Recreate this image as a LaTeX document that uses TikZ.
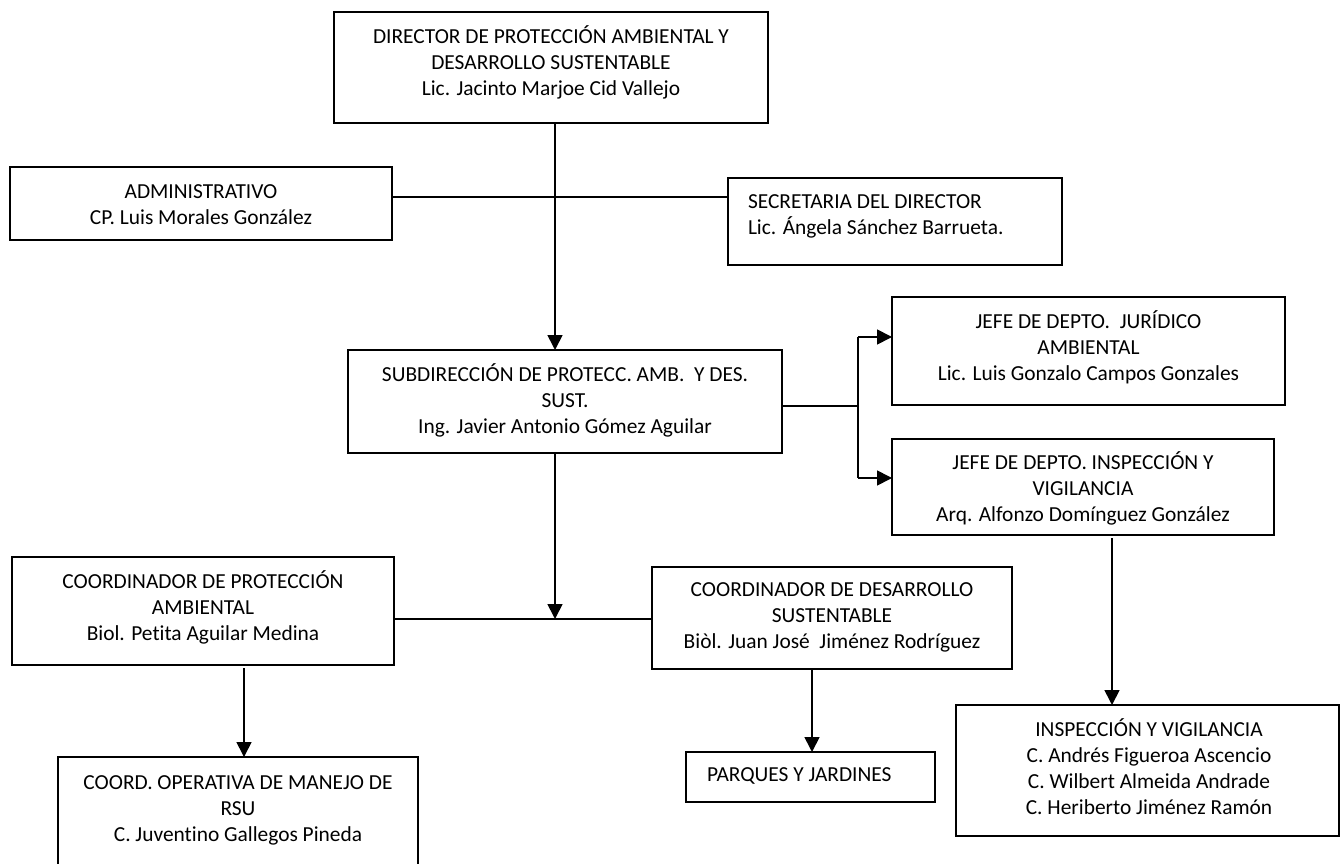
\documentclass[tikz,border=0pt]{standalone}
\usepackage{fontspec}
\setmainfont{Carlito}[Ligatures=NoCommon]
\usetikzlibrary{arrows.meta}
\tikzset{
  box/.style={draw, line width=1.5pt, inner sep=0pt, outer sep=0pt},
  txt/.style={inner sep=0pt, outer sep=0pt, font=\fontsize{21.4}{26.3}\selectfont, align=center},
  txtl/.style={inner sep=0pt, outer sep=0pt, font=\fontsize{21.4}{26.3}\selectfont, align=left},
  conn/.style={line width=1.7pt},
  arr/.style={line width=1.7pt, -{Triangle[length=15pt, width=15pt]}}
}
\begin{document}
\begin{tikzpicture}[x=1pt, y=-1pt]
\useasboundingbox (0,0) rectangle (1343,864);
\clip (0,0) rectangle (1343,864);
% boxes
\node[box, minimum width=434pt, minimum height=111pt] (dir) at (551,67.5) {};
\node[box, minimum width=382pt, minimum height=73pt] (adm) at (201,203.5) {};
\node[box, minimum width=334pt, minimum height=87pt] (sec) at (895,221.5) {};
\node[box, minimum width=434pt, minimum height=103pt] (sub) at (565,401.5) {};
\node[box, minimum width=393pt, minimum height=108pt] (jur) at (1088.5,351) {};
\node[box, minimum width=382pt, minimum height=96pt] (jin) at (1083,487) {};
\node[box, minimum width=382pt, minimum height=108pt] (cpa) at (203,611) {};
\node[box, minimum width=360pt, minimum height=102pt] (cds) at (832,618) {};
\node[box, minimum width=249pt, minimum height=50pt] (par) at (810.5,777) {};
\node[box, minimum width=383pt, minimum height=131pt] (ivg) at (1147.5,770.5) {};
\node[box, minimum width=360pt, minimum height=146pt] (cop) at (238,830) {};
% texts (anchor = baseline of the last line)
\node[txt, anchor=base] (dirT) at (551,96) {DIRECTOR DE PROTECCIÓN AMBIENTAL Y\\DESARROLLO SUSTENTABLE\\Lic. Jacinto Marjoe Cid Vallejo};
\node[txt, anchor=base] (admT) at (201,224.3) {ADMINISTRATIVO\\CP. Luis Morales González};
\node[txtl, anchor=base west] (secT) at (748,234.5) {SECRETARIA DEL DIRECTOR\\Lic. Ángela Sánchez Barrueta.};
\node[txt, anchor=base] (subT) at (565,433.6) {SUBDIRECCIÓN DE PROTECC. AMB.\ \ Y DES.\\SUST.\\Ing. Javier Antonio Gómez Aguilar};
\node[txt, anchor=base] (jurT) at (1088.5,380.6) {JEFE DE DEPTO.\ \ JURÍDICO\\AMBIENTAL\\Lic. Luis Gonzalo Campos Gonzales};
\node[txt, anchor=base] (jinT) at (1083,521.6) {JEFE DE DEPTO. INSPECCIÓN Y\\VIGILANCIA\\Arq. Alfonzo Domínguez González};
\node[txt, anchor=base] (cpaT) at (203,640.6) {COORDINADOR DE PROTECCIÓN\\AMBIENTAL\\Biol. Petita Aguilar Medina};
\node[txt, anchor=base] (cdsT) at (832,648.6) {COORDINADOR DE DESARROLLO\\SUSTENTABLE\\Biòl. Juan José\ \ Jiménez Rodríguez};
\node[txtl, anchor=base west] (parT) at (707,781) {PARQUES Y JARDINES};
\node[txt, anchor=base] (ivgT) at (1149,814.9) {INSPECCIÓN Y VIGILANCIA\\C. Andrés Figueroa Ascencio\\C. Wilbert Almeida Andrade\\C. Heriberto Jiménez Ramón};
\node[txt, anchor=base] (copT) at (238,841.6) {COORD. OPERATIVA DE MANEJO DE\\RSU\\C. Juventino Gallegos Pineda};
% junction coordinates
\coordinate (jA) at (555,197);
\coordinate (jB) at (858,406);
\coordinate (jC) at (555,619);
\coordinate (jP) at (244,668);
\coordinate (jD) at (812,669);
\coordinate (jI) at (1112,538);
\coordinate (yJ) at (858,337);
\coordinate (yI) at (858,478);
% connectors
\draw[arr] (dir.south -| jA) -- (sub.north -| jA);
\draw[conn] (adm.east |- jA) -- (sec.west |- jA);
\draw[conn] (sub.east |- jB) -- (jB);
\draw[conn] (yJ) -- (yI);
\draw[arr] (yJ) -- (jur.west |- yJ);
\draw[arr] (yI) -- (jin.west |- yI);
\draw[arr] (sub.south -| jC) -- (jC);
\draw[conn] (cpa.east |- jC) -- (cds.west |- jC);
\draw[arr] (jP) -- (cop.north -| jP);
\draw[arr] (jD) -- (par.north -| jD);
\draw[arr] (jI) -- (ivg.north -| jI);
\end{tikzpicture}
\end{document}
